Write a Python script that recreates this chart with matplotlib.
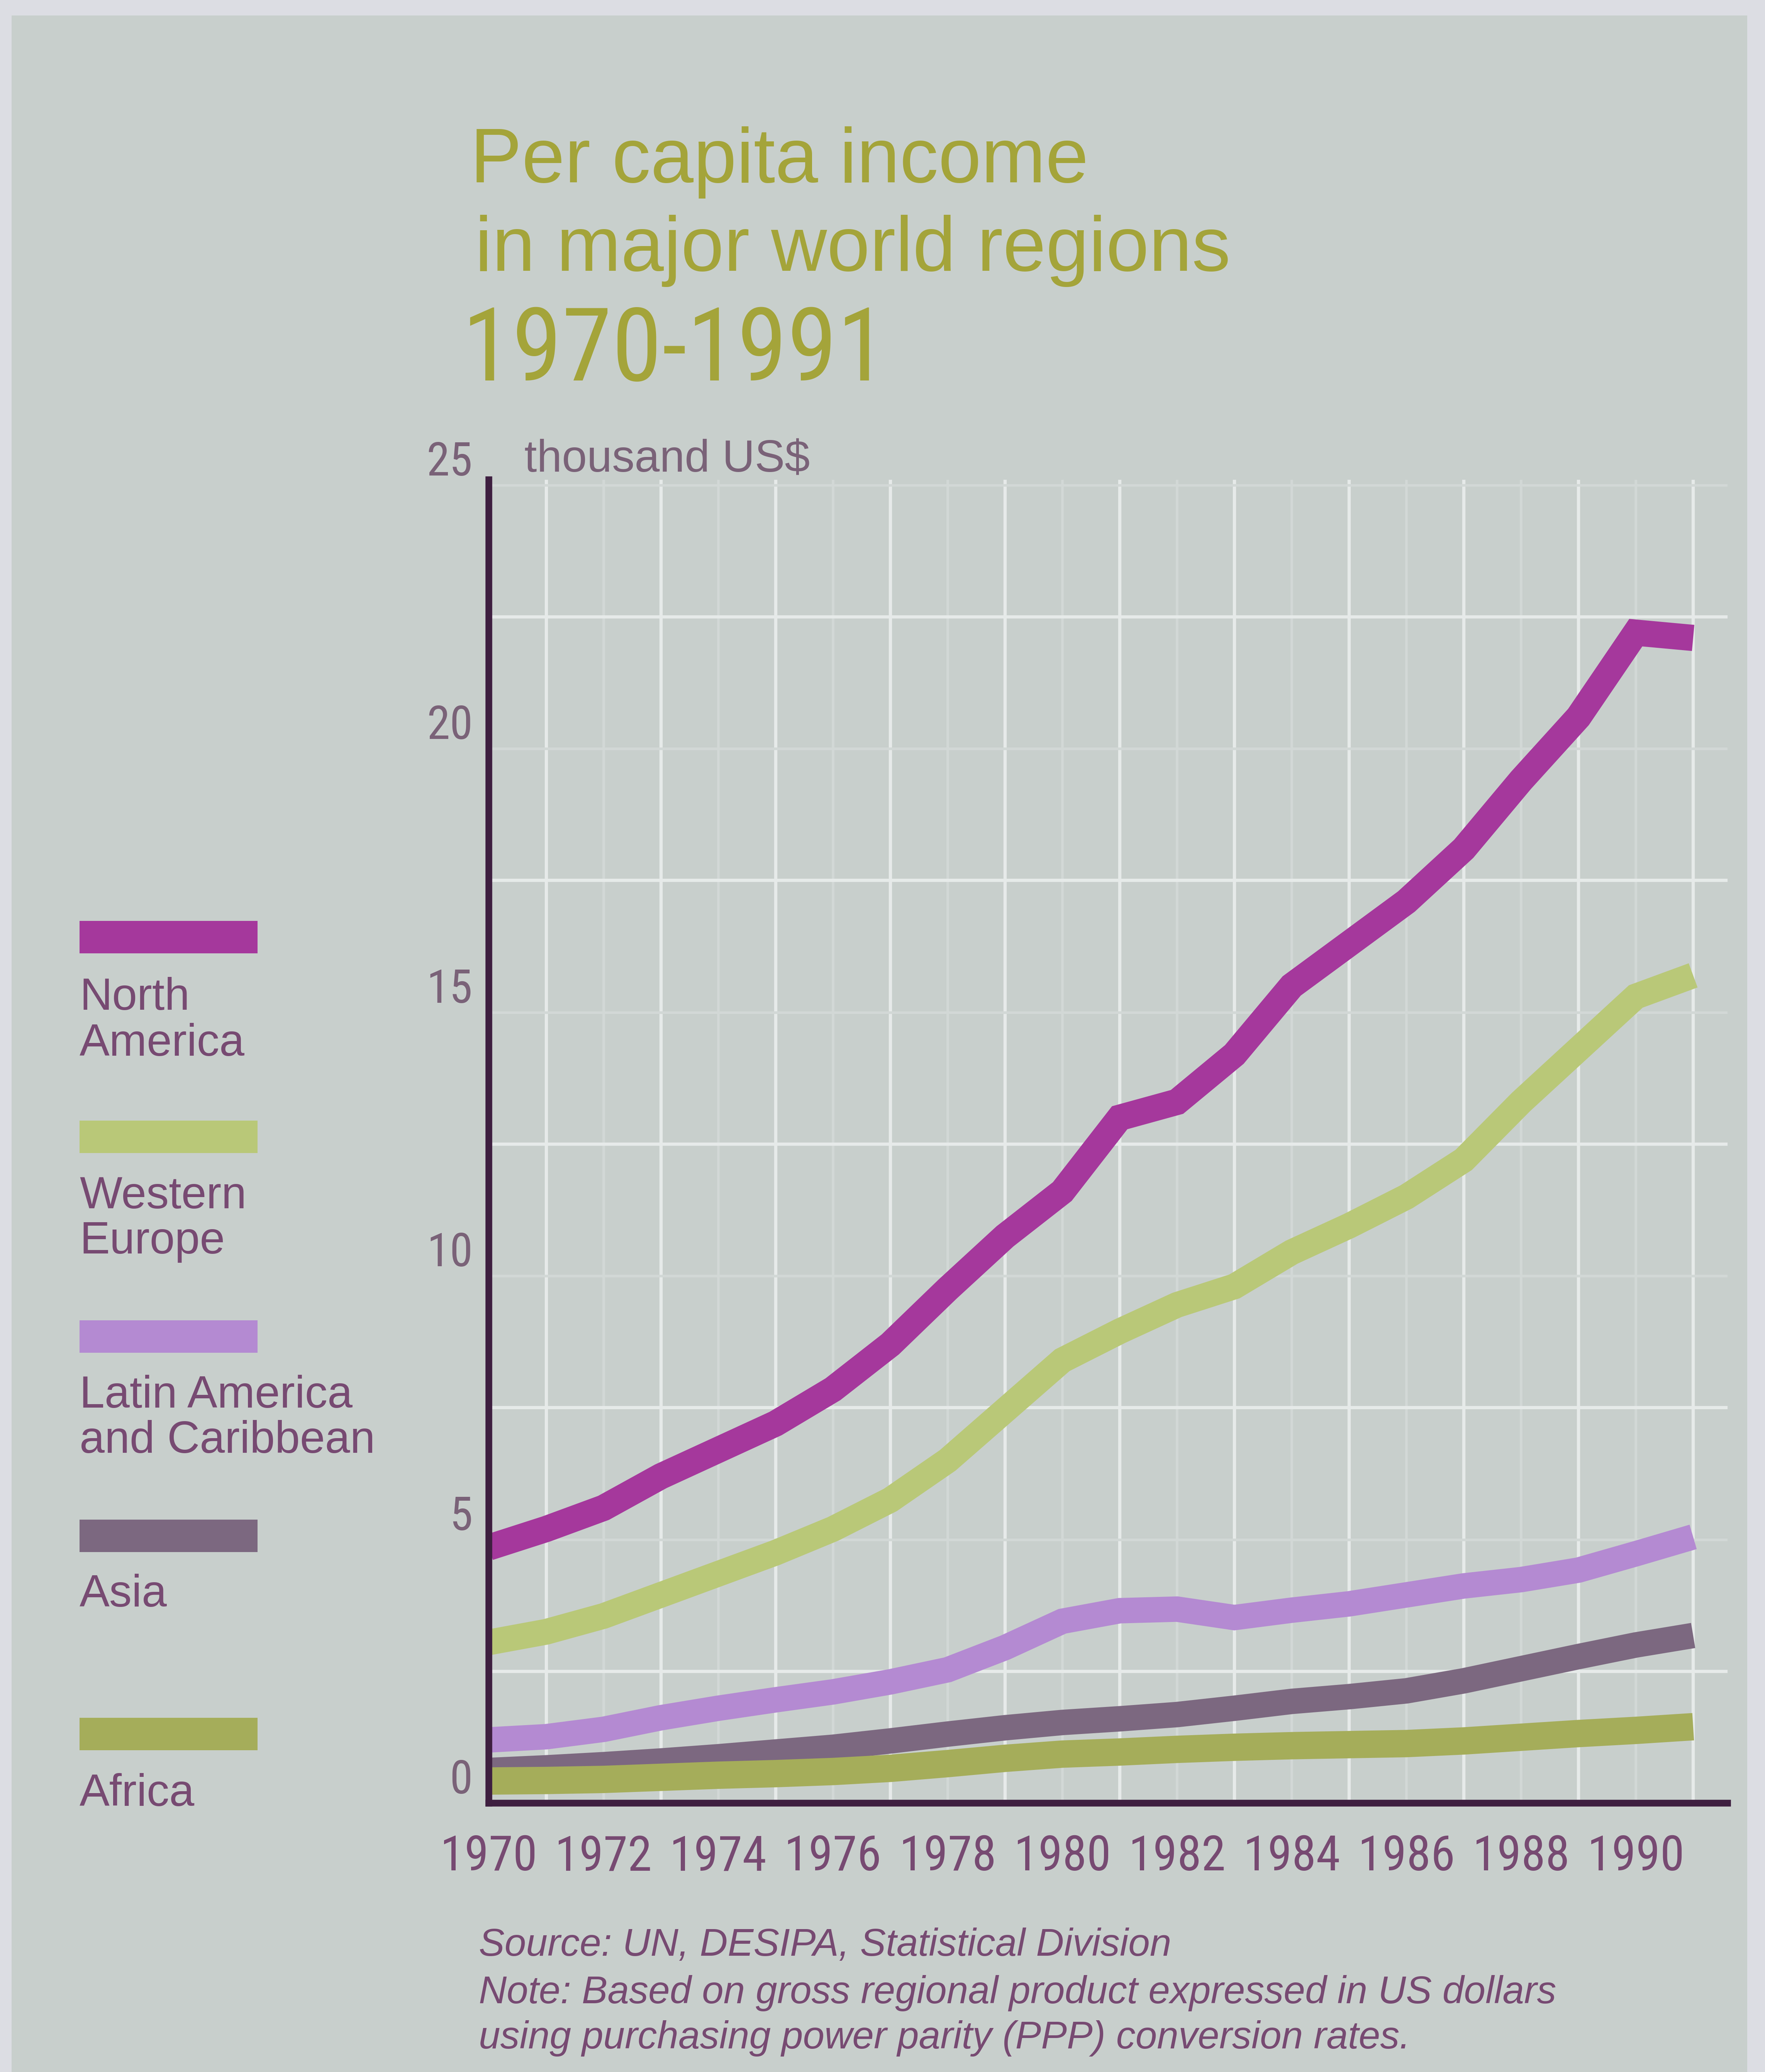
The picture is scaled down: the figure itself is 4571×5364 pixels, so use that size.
import matplotlib
matplotlib.use("Agg")
import matplotlib.pyplot as plt
import matplotlib.font_manager as fm
from matplotlib.patches import Rectangle

# ---- data (thousand US$, per capita) ----
years = list(range(1970, 1992))
north_america = [4.85, 5.2, 5.6, 6.2, 6.7, 7.2, 7.85, 8.7, 9.75, 10.75, 11.6,
                 13.0, 13.3, 14.2, 15.5, 16.3, 17.1, 18.1, 19.4, 20.6, 22.2, 22.1]
western_europe = [3.05, 3.25, 3.55, 3.95, 4.35, 4.75, 5.2, 5.75, 6.5, 7.45, 8.4,
                  8.95, 9.45, 9.8, 10.45, 10.95, 11.5, 12.2, 13.3, 14.3, 15.3, 15.7]
latin_america = [1.2, 1.26, 1.4, 1.62, 1.8, 1.96, 2.11, 2.3, 2.53, 2.95, 3.45,
                 3.65, 3.68, 3.52, 3.66, 3.78, 3.95, 4.12, 4.24, 4.42, 4.73, 5.05]
asia = [0.62, 0.67, 0.73, 0.8, 0.88, 0.97, 1.06, 1.18, 1.31, 1.43, 1.53,
        1.6, 1.68, 1.8, 1.93, 2.02, 2.13, 2.32, 2.55, 2.78, 3.0, 3.18]
africa = [0.42, 0.43, 0.45, 0.49, 0.53, 0.56, 0.6, 0.66, 0.75, 0.85, 0.93,
          0.97, 1.02, 1.06, 1.09, 1.11, 1.13, 1.18, 1.25, 1.32, 1.38, 1.45]

region_labels = [["North", "America"], ["Western", "Europe"],
                 ["Latin America", "and Caribbean"], ["Asia"], ["Africa"]]
region_colors = ["#a5389c", "#b9c878", "#b48ad2", "#7c6880", "#a5ad5a"]

x_tick_years = list(range(1970, 1991, 2))
y_tick_values = [0, 5, 10, 15, 20, 25]

title_lines = ["Per capita income", "in major world regions", "1970-1991"]
unit_label = "thousand US$"
source_lines = ["Source: UN, DESIPA, Statistical Division",
                "Note: Based on gross regional product expressed in US dollars",
                "using purchasing power parity (PPP) conversion rates."]

# ---- fonts ----
entries = fm.fontManager.ttflist
installed = {f.name for f in entries}
REG = "Liberation Sans" if "Liberation Sans" in installed else "DejaVu Sans"

# pick a condensed face for the numerals if one is installed
COND = None
COND_STRETCH = "normal"
for cand in ["Liberation Sans Narrow", "Roboto Condensed", "Open Sans Condensed",
             "Arial Narrow", "DejaVu Sans Condensed"]:
    if cand in installed:
        COND = cand
        break
if COND is None:
    for f in entries:
        st = str(f.stretch)
        if f.name in ("DejaVu Sans", "Roboto", "Open Sans", "Noto Sans") and \
                (st in ("condensed", "semi-condensed") or
                 (st.isdigit() and int(st) < 500)):
            COND = f.name
            COND_STRETCH = "condensed"
            break
if COND is None:
    COND = REG
cond_scale = 1.0 if (COND != REG or COND_STRETCH != "normal") else 0.86

# ---- colours ----
BG = "#c8cfcc"
EDGE = "#dcdde3"
TITLE = "#a4a43a"
AXIS = "#3e1f40"
TICK_TXT = "#7a6278"
TXT = "#774a72"
GRID_STRONG = "#e6eae9"
GRID_FAINT = "#d2d8d6"

W, H, DPI = 4571, 5364, 300
fig = plt.figure(figsize=(W / DPI, H / DPI), dpi=DPI, facecolor=BG)


def fx(px):
    return px / W


def fy(py):
    return 1 - py / H


# light paper edges
for (x0, y0, w, h) in [(0, 0, W, 40), (0, 0, 30, H), (4525, 0, W - 4525, H)]:
    fig.patches.append(Rectangle((fx(x0), fy(y0 + h)), w / W, h / H,
                                 transform=fig.transFigure, facecolor=EDGE,
                                 edgecolor="none", zorder=0))

# ---- main axes ----
ax_left, ax_right, ax_bottom, ax_top = 1266, 4474, 4668, 1242
ax = fig.add_axes([fx(ax_left), fy(ax_bottom), (ax_right - ax_left) / W,
                   (ax_bottom - ax_top) / H])
ax.set_facecolor("none")
ax.set_xlim(1970, 1991.6)
ax.set_ylim(0, 25.1)

series = [north_america, western_europe, latin_america, asia, africa]
widths = [16.3, 16.0, 15.8, 15.8, 17.0]
for vals, col, lw in zip(series, region_colors, widths):
    ax.plot(years, vals, color=col, lw=lw, solid_capstyle="butt",
            solid_joinstyle="miter", zorder=3)

# grid: labelled positions faint, in-between positions bright
ax.set_xticks(x_tick_years, labels=[str(y) for y in x_tick_years])
ax.set_xticks(list(range(1971, 1992, 2)), minor=True)
ax.set_yticks(y_tick_values, labels=[str(v) for v in y_tick_values])
ax.set_yticks([2.5, 7.5, 12.5, 17.5, 22.5], minor=True)
ax.grid(which="major", color=GRID_FAINT, lw=1.6, zorder=1)
ax.grid(which="minor", color=GRID_STRONG, lw=2.0, zorder=1)
ax.set_axisbelow(True)

ax.tick_params(axis="both", which="both", length=0)
ax.tick_params(axis="x", pad=19)
ax.tick_params(axis="y", pad=10)
for lbl in ax.get_xticklabels():
    lbl.set_fontfamily(COND)
    lbl.set_fontstretch(COND_STRETCH)
    lbl.set_fontsize(30.5 * cond_scale)
    lbl.set_color(TXT)
for lbl in ax.get_yticklabels():
    lbl.set_fontfamily(COND)
    lbl.set_fontstretch(COND_STRETCH)
    lbl.set_fontsize(29 * cond_scale)
    lbl.set_color(TICK_TXT)
    lbl.set_va("bottom")

for side in ("top", "right"):
    ax.spines[side].set_visible(False)
for side in ("left", "bottom"):
    ax.spines[side].set_color(AXIS)
    ax.spines[side].set_linewidth(4.2)
    ax.spines[side].set_zorder(5)

# unit label
fig.text(fx(1358), fy(1221), unit_label, fontsize=28, family=REG,
         color=TICK_TXT, va="baseline", ha="left")

# ---- title ----
fig.text(fx(1218), fy(472), title_lines[0], fontsize=48, family=REG,
         color=TITLE, va="baseline", ha="left")
fig.text(fx(1230), fy(701), title_lines[1], fontsize=48, family=REG,
         color=TITLE, va="baseline", ha="left")
fig.text(fx(1196), fy(985), title_lines[2], fontsize=63 * cond_scale,
         family=COND, stretch=COND_STRETCH, color=TITLE, va="baseline",
         ha="left")

# ---- legend ----
swatch_tops = [2384, 2901, 3418, 3934, 4447]
label_baselines = [[2614, 2733], [3128, 3245], [3644, 3761], [4159], [4675]]
for col, top, lines, bases in zip(region_colors, swatch_tops, region_labels,
                                  label_baselines):
    fig.patches.append(Rectangle((fx(206), fy(top + 84)), 461 / W, 84 / H,
                                 transform=fig.transFigure, facecolor=col,
                                 edgecolor="none", zorder=2))
    for line, b in zip(lines, bases):
        fig.text(fx(206), fy(b), line, fontsize=28, family=REG, color=TXT,
                 va="baseline", ha="left")

# ---- source notes ----
for line, b in zip(source_lines, [5063, 5186, 5303]):
    fig.text(fx(1240), fy(b), line, fontsize=24, family=REG, style="italic",
             color=TXT, va="baseline", ha="left")

fig.savefig("out.png", dpi=DPI, facecolor=BG)
